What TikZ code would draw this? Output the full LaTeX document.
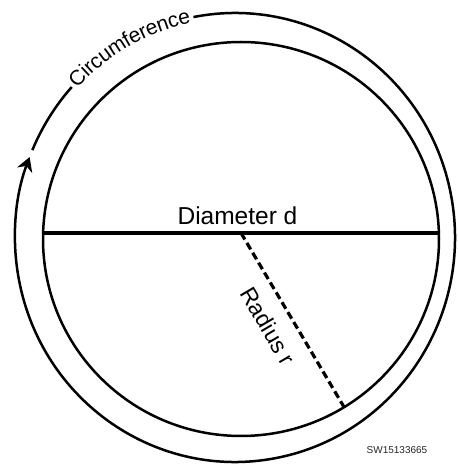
\documentclass[tikz,border=0pt]{standalone}
\usepackage{fontspec}
\setmainfont{Liberation Sans}
\usetikzlibrary{arrows.meta,decorations.text}
\begin{document}
\begin{tikzpicture}[x=1pt,y=1pt,
  ring/.style={line width=2.5pt,black},
  diamline/.style={line width=3.6pt,black},
  radline/.style={line width=3.2pt,black,dash pattern=on 7.5pt off 4pt},
  lbl/.style={inner sep=0pt,font=\fontsize{24.5}{24.5}\selectfont}]
\useasboundingbox (0,0) rectangle (458,464);
\coordinate (ic) at (241,225);
\coordinate (oc) at (235,226.5);
% inner circle
\draw[ring] (ic) ellipse[x radius=198, y radius=197];
% outer circle with arrow
\draw[ring,-{Stealth[length=14pt,width=16pt,inset=4.5pt]}]
  ([shift={(100.9:220 and 224.5)}]oc) arc[start angle=100.9, end angle=-201, x radius=220, y radius=224.5];
\draw[ring] ([shift={(157.1:220 and 224.5)}]oc) arc[start angle=157.1, end angle=137.9, x radius=220, y radius=224.5];
\path[decorate,decoration={text along path,text align=center,raise=-5pt,
   text={|\fontsize{21}{21}\selectfont|Circumference}}]
  ([shift={(138.5:220 and 224.5)}]oc) arc[start angle=138.5, end angle=100.5, x radius=220, y radius=224.5];
% diameter
\coordinate (dl) at (43.1,231);
\coordinate (dr) at (438.9,231);
\draw[diamline] (dl) -- (dr);
\node[lbl,anchor=base] (dlabel) at (237.5,239) {Diameter d};
% radius
\coordinate (rs) at (241,231);
\coordinate (re) at (344,57);
\draw[radline] (rs) -- (re);
\node[lbl,font=\fontsize{23}{23}\selectfont,rotate=-59.4] (rlabel) at (268,138) {Radius r};
% code
\node[inner sep=0pt,font=\fontsize{10}{10}\selectfont,text=black!85] (code) at (397,14) {SW15133665};
\end{tikzpicture}
\end{document}
